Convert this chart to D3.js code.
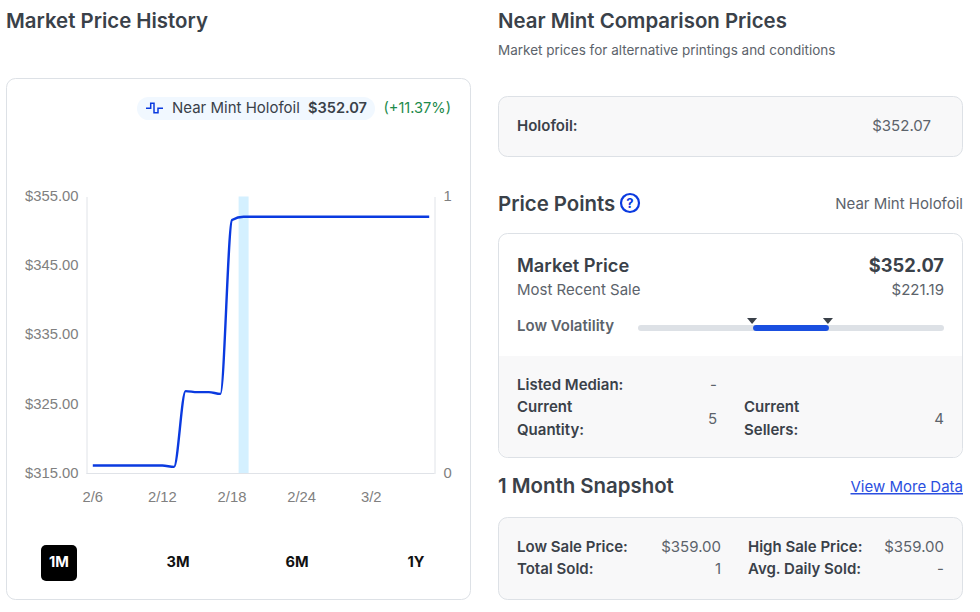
<!DOCTYPE html>
<html>
<head>
<meta charset="utf-8">
<script src="https://cdn.jsdelivr.net/npm/d3@7"></script>
<style>
    body { margin: 0; background: #fff; }
    svg { display: block; font-family: Inter, sans-serif; }
    .axis text { font-family: "Liberation Sans", Arial, sans-serif; font-size: 14.8px; fill: #808080; }
    .axis path { stroke: #e0e3e8; stroke-width: 1; }
</style>
</head>
<body>
<script>
    var dates = ["2/6", "2/7", "2/8", "2/9", "2/10", "2/11", "2/12", "2/13", "2/14", "2/15",
        "2/16", "2/17", "2/18", "2/19", "2/20", "2/21", "2/22", "2/23", "2/24", "2/25",
        "2/26", "2/27", "2/28", "3/1", "3/2", "3/3", "3/4", "3/5", "3/6", "3/7"];
    var marketPrices = [316.15, 316.15, 316.15, 316.15, 316.15, 316.15, 316.15, 315.95, 326.9, 326.75,
        326.75, 326.5, 351.6, 352.07, 352.07, 352.07, 352.07, 352.07, 352.07, 352.07,
        352.07, 352.07, 352.07, 352.07, 352.07, 352.07, 352.07, 352.07, 352.07, 352.07];
    var soldCounts = [0, 0, 0, 0, 0, 0, 0, 0, 0, 0, 0, 0, 0, 1, 0, 0, 0, 0, 0, 0,
        0, 0, 0, 0, 0, 0, 0, 0, 0, 0];
    var dateTicks = ["2/6", "2/12", "2/18", "2/24", "3/2"];
    var priceTicks = [315, 325, 335, 345, 355];
    var countTicks = [0, 1];
    var ranges = ["1M", "3M", "6M", "1Y"];
    var volatilityRange = [0.376, 0.624];

    var DARK = "#3a4149", GREY = "#5c636b", BLUE = "#0a3ae0", BORDER = "#dde1e6", PANEL = "#f8f8f9";

    var svg = d3.select("body").append("svg").attr("width", 980).attr("height", 612);

    function label(x, y, str, opts) {
        opts = opts || {};
        return svg.append("text")
            .attr("x", x).attr("y", y)
            .attr("text-anchor", opts.anchor || "start")
            .attr("font-size", opts.size || 15)
            .attr("font-weight", opts.weight || 400)
            .attr("fill", opts.fill || DARK)
            .text(str);
    }

    function box(x, y, w, h, fill) {
        return svg.append("rect")
            .attr("x", x).attr("y", y).attr("width", w).attr("height", h)
            .attr("rx", 9).attr("fill", fill).attr("stroke", BORDER);
    }

    // left column: chart
    label(6, 28, "Market Price History", {size: 20.4, weight: 600});
    box(6.5, 78.5, 464, 521, "#fff");

    svg.append("rect").attr("x", 137).attr("y", 97).attr("width", 238).attr("height", 23)
        .attr("rx", 11.5).attr("fill", "#f1f8ff");
    svg.append("path")
        .attr("d", "M146 108.3H150.7V103.3H154V112.7H158V108.3H163")
        .attr("fill", "none").attr("stroke", BLUE).attr("stroke-width", 1.5);
    label(172, 113, "Near Mint Holofoil");
    label(367, 113, "$352.07", {anchor: "end", size: 14.6, weight: 600});
    label(451, 113, "(+11.37%)", {anchor: "end", size: 14.6, fill: "#1c8a4b"});

    var x = d3.scaleBand().domain(dates).range([87, 435]).paddingInner(0.14).paddingOuter(0.07);
    var y = d3.scaleLinear().domain([315, 355]).range([473.5, 196.5]);
    var yCount = d3.scaleLinear().domain([0, 1]).range([473.5, 196.5]);

    svg.append("g").selectAll("rect")
        .data(dates.filter(function(d, i) { return soldCounts[i] > 0; }))
        .enter().append("rect")
        .attr("x", function(d) { return x(d); })
        .attr("width", x.bandwidth())
        .attr("y", function(d) { return yCount(soldCounts[dates.indexOf(d)]); })
        .attr("height", function(d) { return yCount(0) - yCount(soldCounts[dates.indexOf(d)]); })
        .attr("fill", "#d4f0ff");

    svg.append("g").attr("class", "axis")
        .attr("transform", "translate(86.5,-1)")
        .call(d3.axisLeft(y).tickValues(priceTicks).tickSize(0).tickPadding(8)
            .tickFormat(function(d) { return "$" + d.toFixed(2); }))
        .select("path").attr("transform", "translate(0,1)");
    svg.append("g").attr("class", "axis")
        .attr("transform", "translate(434.5,-1)")
        .call(d3.axisRight(yCount).tickValues(countTicks).tickSize(0).tickPadding(9)
            .tickFormat(d3.format("d")))
        .select("path").attr("transform", "translate(0,1)");
    svg.append("g").attr("class", "axis")
        .attr("transform", "translate(0,473.5)")
        .call(d3.axisBottom(x).tickValues(dateTicks).tickSize(0).tickPadding(18))
        .select("path").attr("d", "M86.5,0H434.5");

    var line = d3.line()
        .x(function(d, i) { return x(dates[i]) + x.bandwidth() / 2; })
        .y(function(d) { return y(d); })
        .curve(d3.curveMonotoneX);
    svg.append("path").datum(marketPrices)
        .attr("d", line).attr("fill", "none")
        .attr("stroke", BLUE).attr("stroke-width", 2.4);

    var rangeX = d3.scalePoint().domain(ranges).range([59, 416]);
    svg.append("rect").attr("x", 41).attr("y", 545).attr("width", 36).attr("height", 36)
        .attr("rx", 5).attr("fill", "#000");
    ranges.forEach(function(r, i) {
        label(rangeX(r), 567, r, {anchor: "middle", size: 14.6, weight: 700, fill: i === 0 ? "#fff" : "#111"});
    });

    // right column: comparison
    label(498, 28, "Near Mint Comparison Prices", {size: 20.4, weight: 600});
    label(498, 55, "Market prices for alternative printings and conditions", {size: 13.5, fill: GREY});
    box(498.5, 96.5, 464, 60, PANEL);
    label(517, 131, "Holofoil:", {weight: 600});
    label(931, 131, "$352.07", {anchor: "end", fill: GREY});

    // price points
    label(498, 211, "Price Points", {size: 20.4, weight: 600});
    svg.append("circle").attr("cx", 630).attr("cy", 203).attr("r", 9)
        .attr("fill", "none").attr("stroke", BLUE).attr("stroke-width", 2.2);
    label(630, 208, "?", {anchor: "middle", size: 13, weight: 700, fill: BLUE});
    label(963, 209, "Near Mint Holofoil", {anchor: "end", fill: GREY});

    box(498.5, 233.5, 464, 224, "#fff");
    svg.append("path")
        .attr("d", "M499 356H962V448a9 9 0 0 1 -9 9H508a9 9 0 0 1 -9 -9Z")
        .attr("fill", PANEL);
    label(517, 272, "Market Price", {size: 18.3, weight: 600});
    label(944, 272, "$352.07", {anchor: "end", size: 18.3, weight: 700});
    label(517, 295, "Most Recent Sale", {fill: GREY});
    label(944, 295, "$221.19", {anchor: "end", fill: GREY});
    label(517, 331, "Low Volatility", {weight: 600, fill: GREY});

    var vol = d3.scaleLinear().domain([0, 1]).range([638, 944]);
    svg.append("rect").attr("x", vol(0)).attr("y", 325).attr("width", vol(1) - vol(0)).attr("height", 6)
        .attr("rx", 3).attr("fill", "#dde1e6");
    svg.append("rect").attr("x", vol(volatilityRange[0])).attr("y", 325)
        .attr("width", vol(volatilityRange[1]) - vol(volatilityRange[0])).attr("height", 6)
        .attr("rx", 3).attr("fill", "#1a4fe0");
    volatilityRange.forEach(function(v) {
        svg.append("path")
            .attr("transform", "translate(" + (vol(v) - 1) + ",0)")
            .attr("d", "M-5 318H5L0 324Z").attr("fill", DARK);
    });

    label(517, 390, "Listed Median:", {weight: 600});
    label(717, 390, "-", {anchor: "end", fill: GREY});
    label(517, 412, "Current", {weight: 600});
    label(517, 435, "Quantity:", {weight: 600});
    label(717, 424, "5", {anchor: "end", fill: GREY});
    label(744, 412, "Current", {weight: 600});
    label(744, 435, "Sellers:", {weight: 600});
    label(944, 424, "4", {anchor: "end", fill: GREY});

    // snapshot
    label(498, 493, "1 Month Snapshot", {size: 20.4, weight: 600});
    label(963, 492, "View More Data", {anchor: "end", fill: "#2b4fe0"})
        .attr("text-decoration", "underline");
    box(498.5, 517.5, 464, 82, PANEL);
    label(517, 552, "Low Sale Price:", {weight: 600});
    label(721, 552, "$359.00", {anchor: "end", fill: GREY});
    label(748, 552, "High Sale Price:", {weight: 600});
    label(944, 552, "$359.00", {anchor: "end", fill: GREY});
    label(517, 574, "Total Sold:", {weight: 600});
    label(721, 574, "1", {anchor: "end", fill: GREY});
    label(748, 574, "Avg. Daily Sold:", {weight: 600});
    label(944, 574, "-", {anchor: "end", fill: GREY});
</script>
</body>
</html>
